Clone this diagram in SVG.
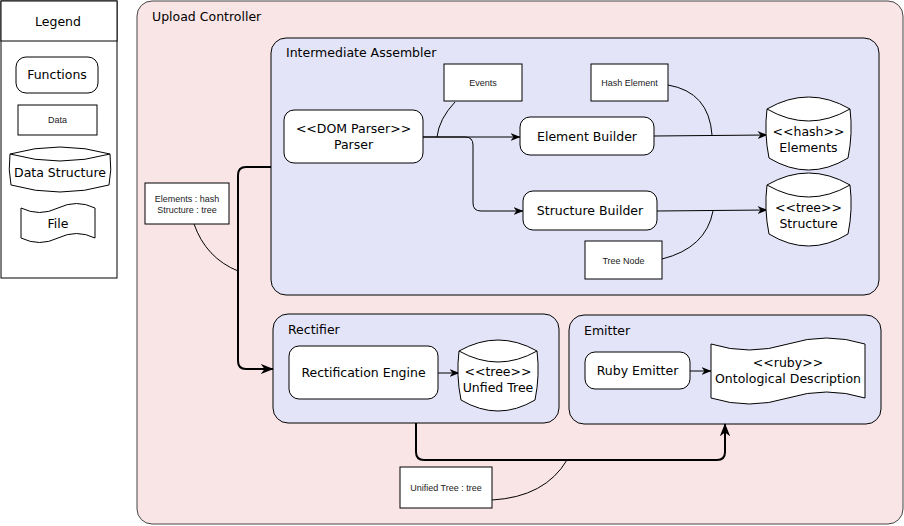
<svg xmlns="http://www.w3.org/2000/svg" width="904" height="526" viewBox="0 0 904 526">
<style>
text{font-family:"DejaVu Sans","Noto Sans",sans-serif;font-size:12.5px;fill:#000}
.c{text-anchor:middle}
.s{font-family:"Liberation Sans",Arial,sans-serif;font-size:9px;fill:#222}
.fn{fill:#fff;stroke:#000;stroke-width:1}
.dt{fill:#fff;stroke:#000;stroke-width:1}
.ct{fill:#e4e4f8;stroke:#000;stroke-width:1}
.ln{fill:none;stroke:#000;stroke-width:1}
.th{fill:none;stroke:#000;stroke-width:2}
</style>
<defs>
<marker id="a" markerUnits="userSpaceOnUse" markerWidth="10" markerHeight="10" viewBox="0 0 10 10" refX="9.5" refY="5" orient="auto"><path d="M0,1 L10,5 L0,9 L3,5 Z" fill="#000"/></marker>
<marker id="b" markerUnits="userSpaceOnUse" markerWidth="13" markerHeight="13" viewBox="0 0 10 10" refX="9.5" refY="5" orient="auto"><path d="M0,1 L10,5 L0,9 L3,5 Z" fill="#000"/></marker>
</defs>

<g id="legend">
<rect x="1" y="1" width="116" height="277" fill="#fff" stroke="#000"/>
<rect x="1" y="1" width="116" height="40" fill="#fff" stroke="#000"/>
<text class="c" x="58" y="26">Legend</text>
<rect class="fn" x="16" y="57" width="82" height="36" rx="10"/>
<text class="c" x="57" y="79">Functions</text>
<rect class="dt" x="18" y="105" width="79" height="30"/>
<text class="c s" x="57.5" y="123">Data</text>
<path class="dt" d="M10,154 Q60,140 110,154 Q112,170 109,185 Q60,199 11,185 Q8,170 10,154 Z"/>
<path class="ln" d="M10,154 Q60,168 110,154"/>
<text class="c" x="60" y="177">Data Structure</text>
<path class="dt" d="M21,208 Q39.5,217 58,208 Q76.5,199 95,208 L95,238 Q76.5,229 58,238 Q39.5,247 21,238 Z"/>
<text class="c" x="58" y="228">File</text>
</g>

<g id="upload-controller">
<rect x="137" y="1" width="766" height="523" rx="15" fill="#fae5e6" stroke="#444"/>
<text x="152" y="21">Upload Controller</text>
</g>

<g id="intermediate-assembler">
<rect class="ct" x="271" y="38" width="608" height="257" rx="15"/>
<text x="286" y="57">Intermediate Assembler</text>
</g>

<g id="rectifier">
<rect class="ct" x="273" y="314" width="286" height="109" rx="15"/>
<text x="288" y="334">Rectifier</text>
</g>

<g id="emitter">
<rect class="ct" x="569" y="315" width="312" height="109" rx="15"/>
<text x="584" y="335">Emitter</text>
</g>

<g id="connectors">
<path class="ln" d="M455,102 Q439,119 437,137"/>
<path class="ln" d="M668,85 Q709,92 712,135"/>
<path class="ln" d="M662,259 Q706,248 713,211"/>
<path class="ln" d="M194,224 Q206,258 238,271"/>
<path class="ln" d="M492,500 Q545,497 567,460"/>
<path class="ln" d="M423,137 L520,137" marker-end="url(#a)"/>
<path class="ln" d="M423,137 L465,137 Q473,137 473,145 L473,203 Q473,211 481,211 L523,211" marker-end="url(#a)"/>
<path class="ln" d="M654,136 L767,135" marker-end="url(#a)"/>
<path class="ln" d="M657,211 L767,210" marker-end="url(#a)"/>
<path class="ln" d="M438,373 L459,373" marker-end="url(#a)"/>
<path class="ln" d="M690,371 L711,371" marker-end="url(#a)"/>
<path class="th" d="M271,167 L246,167 Q238,167 238,175 L238,361 Q238,369 246,369 L273,369" marker-end="url(#b)"/>
<path class="th" d="M416,423 L416,452 Q416,460 424,460 L717,460 Q725,460 725,452 L725,424" marker-end="url(#b)"/>
</g>

<g id="parser">
<rect class="fn" x="284" y="110" width="139" height="53" rx="10"/>
<text class="c" x="353.5" y="133">&lt;&lt;DOM Parser&gt;&gt;</text>
<text class="c" x="353.5" y="149">Parser</text>
</g>

<g id="events">
<rect class="dt" x="444" y="64" width="78" height="37"/>
<text class="c s" x="483" y="86">Events</text>
</g>

<g id="element-builder">
<rect class="fn" x="520" y="117" width="134" height="38" rx="10"/>
<text class="c" x="587" y="141">Element Builder</text>
</g>

<g id="hash-element">
<rect class="dt" x="591" y="64" width="77" height="37"/>
<text class="c s" x="629.5" y="86">Hash Element</text>
</g>

<g id="elements">
<path class="dt" d="M767,109 Q808.5,85 850,109 Q853,133.5 848,158 Q808.5,182 769,158 Q764,133.5 767,109 Z"/>
<path class="ln" d="M767,109 Q808.5,133 850,109"/>
<text class="c" x="808.5" y="136">&lt;&lt;hash&gt;&gt;</text>
<text class="c" x="808.5" y="152">Elements</text>
</g>

<g id="structure-builder">
<rect class="fn" x="523" y="191" width="134" height="39" rx="10"/>
<text class="c" x="590" y="215">Structure Builder</text>
</g>

<g id="structure">
<path class="dt" d="M767,185 Q808.5,161 850,185 Q853,209.5 848,234 Q808.5,258 769,234 Q764,209.5 767,185 Z"/>
<path class="ln" d="M767,185 Q808.5,209 850,185"/>
<text class="c" x="808.5" y="212">&lt;&lt;tree&gt;&gt;</text>
<text class="c" x="808.5" y="228">Structure</text>
</g>

<g id="tree-node">
<rect class="dt" x="585" y="241" width="77" height="38"/>
<text class="c s" x="623.5" y="264">Tree Node</text>
</g>

<g id="elements-hash">
<rect class="dt" x="145" y="183" width="84" height="41"/>
<text class="c s" x="187" y="202">Elements : hash</text>
<text class="c s" x="187" y="213">Structure : tree</text>
</g>

<g id="rectification-engine">
<rect class="fn" x="289" y="346" width="149" height="53" rx="10"/>
<text class="c" x="363.5" y="377">Rectification Engine</text>
</g>

<g id="unfied-tree">
<path class="dt" d="M459,351 Q498,329 537,351 Q540,375.5 535,400 Q498,422 461,400 Q456,375.5 459,351 Z"/>
<path class="ln" d="M459,351 Q498,373 537,351"/>
<text class="c" x="498" y="376">&lt;&lt;tree&gt;&gt;</text>
<text class="c" x="498" y="392">Unfied Tree</text>
</g>

<g id="ruby-emitter">
<rect class="fn" x="585" y="352" width="105" height="37" rx="10"/>
<text class="c" x="637.5" y="375">Ruby Emitter</text>
</g>

<g id="ontological-description">
<path class="dt" d="M711,344 Q749.5,356 788,344 Q826.5,332 865,344 L865,398 Q826.5,386 788,398 Q749.5,410 711,398 Z"/>
<text class="c" x="788" y="367">&lt;&lt;ruby&gt;&gt;</text>
<text class="c" x="788" y="383">Ontological Description</text>
</g>

<g id="unified-tree-type">
<rect class="dt" x="400" y="467" width="92" height="41"/>
<text class="c s" x="446" y="491">Unified Tree : tree</text>
</g>
</svg>
